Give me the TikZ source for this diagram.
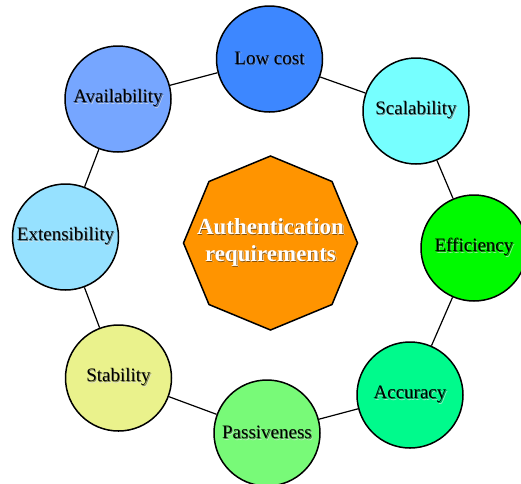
\documentclass[tikz,border=0pt]{standalone}
\usepackage{fontspec}
\setmainfont{Liberation Serif}
\usetikzlibrary{shapes.geometric}

% fills of the requirement circles
\definecolor{cLow}{RGB}{61,135,255}
\definecolor{cScal}{RGB}{118,255,255}
\definecolor{cEff}{RGB}{0,250,0}
\definecolor{cAcc}{RGB}{0,250,140}
\definecolor{cPass}{RGB}{120,250,120}
\definecolor{cStab}{RGB}{234,242,140}
\definecolor{cExt}{RGB}{150,225,255}
\definecolor{cAvail}{RGB}{118,166,255}
\definecolor{cCore}{RGB}{255,148,0}

% text with a soft drop shadow in a darker shade of the fill behind it
\newcommand\shtext[2]{\leavevmode
  \rlap{\kern1.4pt\raisebox{-1.6pt}{\color{#1!82!black!40}#2}}%
  \rlap{\kern0.8pt\raisebox{-0.9pt}{\color{#1!55!black}#2}}#2}

\tikzset{
  req/.style={circle, draw=black, line width=1.5pt, minimum size=106pt,
    inner sep=0pt, text=black, font=\fontsize{19}{23}\selectfont},
  core/.style={regular polygon, regular polygon sides=8,
    shape border rotate=22.5, minimum size=174pt, inner sep=0pt,
    draw=black, line width=1.5pt, fill=cCore},
  coretext/.style={text=white, align=center,
    font=\fontsize{23}{27}\selectfont\bfseries},
  link/.style={draw=black, line width=1.2pt}
}

\begin{document}
\begin{tikzpicture}[x=1pt,y=-1pt]
  \useasboundingbox (0,0) rectangle (521,483);

  \node[core] (core) at (270.5,243) {};
  \node[coretext] (title) at (core.center)
    {\shtext{cCore}{Authentication}\\\shtext{cCore}{requirements}};

  \node[req, fill=cLow]   (low)   at (269.5,59)   {\shtext{cLow}{Low cost}};
  \node[req, fill=cScal]  (scal)  at (416,111)    {\shtext{cScal}{Scalability}};
  \node[req, fill=cEff]   (eff)   at (474,248)    {\shtext{cEff}{Efficiency}};
  \node[req, fill=cAcc]   (acc)   at (410,395)    {\shtext{cAcc}{Accuracy}};
  \node[req, fill=cPass]  (pass)  at (267,433)    {\shtext{cPass}{Passiveness}};
  \node[req, fill=cStab]  (stab)  at (118.5,378)  {\shtext{cStab}{Stability}};
  \node[req, fill=cExt]   (ext)   at (65.5,237)   {\shtext{cExt}{Extensibility}};
  \node[req, fill=cAvail] (avail) at (118,99)     {\shtext{cAvail}{Availability}};

  % ring of links between neighbouring requirements
  \draw[link] (low) -- (scal);
  \draw[link] (scal) -- (eff);
  \draw[link] (eff) -- (acc);
  \draw[link] (acc) -- (pass);
  \draw[link] (pass) -- (stab);
  \draw[link] (stab) -- (ext);
  \draw[link] (ext) -- (avail);
  \draw[link] (avail) -- (low);
\end{tikzpicture}
\end{document}
